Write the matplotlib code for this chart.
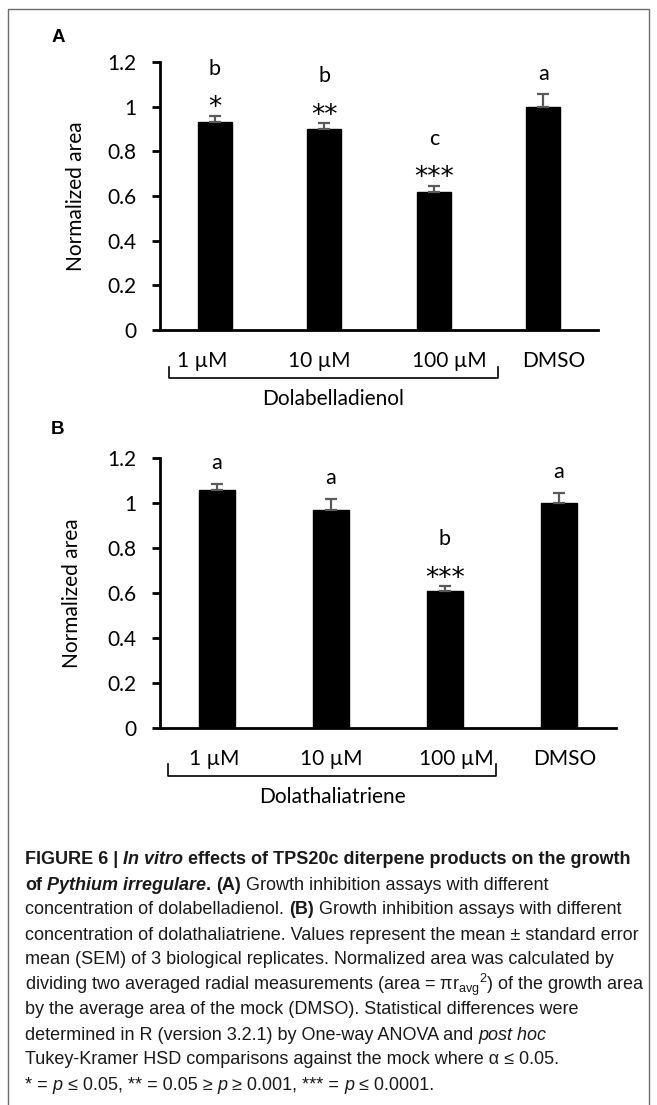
import matplotlib
matplotlib.use("Agg")
import matplotlib.pyplot as plt
import matplotlib.transforms as mtransforms
from matplotlib.patches import Rectangle
import numpy as np

# ── data ──────────────────────────────────────────────────────────────────────
conc_labels = ["1 µM", "10 µM", "100 µM", "DMSO"]

a_means = [0.93, 0.90, 0.62, 1.00]
a_sem = [0.03, 0.025, 0.025, 0.055]
a_letters = ["b", "b", "c", "a"]
a_stars = ["*", "**", "***", ""]
a_group = "Dolabelladienol"

b_means = [1.06, 0.97, 0.61, 1.00]
b_sem = [0.025, 0.05, 0.02, 0.045]
b_letters = ["a", "a", "b", "a"]
b_stars = ["", "", "***", ""]
b_group = "Dolathaliatriene"

W, H = 657, 1105
CHART_FONT = ["Lato", "DejaVu Sans"]
CAP_FONT = ["Liberation Sans", "DejaVu Sans"]
ERR_CLR = "#595959"
TXT = "#1a1a1a"

plt.rcParams["mathtext.fontset"] = "custom"
plt.rcParams["mathtext.rm"] = "Liberation Sans"
plt.rcParams["mathtext.it"] = "Liberation Sans:italic"
plt.rcParams["mathtext.bf"] = "Liberation Sans:bold"

fig = plt.figure(figsize=(W / 100, H / 100), dpi=100, facecolor="white")


def px_box(left, top, right, bottom):
    return [left / W, 1 - bottom / H, (right - left) / W, (bottom - top) / H]


def panel(rect, means, sem, letters, stars, group, shifts, bracket, tag, tag_y):
    ax = fig.add_axes(rect)
    x = np.arange(len(means))
    ax.bar(x, means, width=0.31, color="black", edgecolor="black", zorder=2)
    ax.errorbar(x, means, yerr=[np.zeros(len(sem)), sem], fmt="none",
                ecolor=ERR_CLR, elinewidth=1.6, capsize=4.2, capthick=1.6, zorder=3)
    ax.set_xlim(-0.5, len(means) - 0.5)
    ax.set_ylim(0, 1.2)
    ax.set_yticks([0, 0.2, 0.4, 0.6, 0.8, 1.0, 1.2])
    ax.set_yticklabels(["0", "0.2", "0.4", "0.6", "0.8", "1", "1.2"],
                       fontfamily=CHART_FONT)
    ax.set_xticks(x)
    ax.set_xticklabels(conc_labels, fontfamily=CHART_FONT)
    ax.tick_params(axis="y", length=6, width=2, pad=11, labelsize=15, colors="black")
    ax.tick_params(axis="x", length=0, pad=15, labelsize=15)
    for lab, dx in zip(ax.get_xticklabels(), shifts):
        lab.set_transform(lab.get_transform()
                          + mtransforms.ScaledTranslation(dx / 100, 0, fig.dpi_scale_trans))
    for s in ["top", "right"]:
        ax.spines[s].set_visible(False)
    for s in ["left", "bottom"]:
        ax.spines[s].set_linewidth(2)
    ax.set_ylabel("Normalized area", fontsize=15, fontfamily=CHART_FONT)
    ax.yaxis.set_label_coords(-0.17, 0.5)

    # letters and asterisks above the error bars
    for xi, m, e, let, st in zip(x, means, sem, letters, stars):
        top = m + e
        if st:
            ax.annotate(st, (xi, top), xytext=(0, 0.5), textcoords="offset points",
                        ha="center", va="baseline", fontsize=19,
                        fontfamily="DejaVu Sans")
        ax.annotate(let, (xi, top), xytext=(0, 29.5 if st else 10.5),
                    textcoords="offset points", ha="center", va="baseline",
                    fontsize=15.5, fontfamily=CHART_FONT)

    # bracket grouping the concentrations
    trans = mtransforms.blended_transform_factory(ax.transData, ax.transAxes)
    x0, x1, y_line, y_tip = bracket
    ax.plot([x0, x0, x1, x1], [y_tip, y_line, y_line, y_tip], color="black",
            lw=1.2, transform=trans, clip_on=False)
    ax.text((x0 + x1) / 2, y_line - 0.04, group, transform=trans, ha="center",
            va="top", fontsize=15, fontfamily=CHART_FONT)
    fig.text(58 / W, 1 - tag_y / H, tag, ha="center", va="center",
             fontsize=13.5, fontweight="bold", fontfamily=CAP_FONT)
    return ax


ax_a = panel(px_box(160, 62, 598, 330), a_means, a_sem, a_letters, a_stars, a_group,
             shifts=[-13, -5, 16, 11], bracket=(-0.42, 2.59, -0.18, -0.138),
             tag="A", tag_y=38)
ax_b = panel(px_box(160, 458, 616, 728), b_means, b_sem, b_letters, b_stars, b_group,
             shifts=[-3, 0, 11, 6], bracket=(-0.43, 2.45, -0.178, -0.133),
             tag="B", tag_y=430)

# ── frame around the figure ──────────────────────────────────────────────────
fig.add_artist(Rectangle((8 / W, -0.05), 641 / W, 1.05 - 9 / H, transform=fig.transFigure,
                         fill=False, edgecolor="#6d6d6d", lw=1.0))

# ── caption, mixed bold / italic runs ────────────────────────────────────────
CAP_SIZE = 13.0
STYLE = {"": dict(), "b": dict(fontweight="bold"), "i": dict(fontstyle="italic"),
         "bi": dict(fontweight="bold", fontstyle="italic")}

caption = [
    [("FIGURE 6 |", "b"), (" In vitro", "bi"),
     (" effects of TPS20c diterpene products on the growth", "b")],
    [("of", "b"), (" Pythium irregulare", "bi"), (".", "b"), (" (A)", "b"),
     (" Growth inhibition assays with different", "")],
    [("concentration of dolabelladienol.", ""), (" (B)", "b"),
     (" Growth inhibition assays with different", "")],
    [("concentration of dolathaliatriene. Values represent the mean ± standard error", "")],
    [("mean (SEM) of 3 biological replicates. Normalized area was calculated by", "")],
    [(r"dividing two averaged radial measurements (area = π$\mathrm{r}_{\mathrm{avg}}{}^{2}$) of the growth area", "")],
    [("by the average area of the mock (DMSO). Statistical differences were", "")],
    [("determined in R (version 3.2.1) by One-way ANOVA and", ""), (" post hoc", "i")],
    [("Tukey-Kramer HSD comparisons against the mock where α ≤ 0.05.", "")],
    [("* =", ""), (" p", "i"), (" ≤ 0.05, ** = 0.05 ≥", ""), (" p", "i"),
     (" ≥ 0.001, *** =", ""), (" p", "i"), (" ≤ 0.0001.", "")],
]

renderer = fig.canvas.get_renderer()


def text_width(s, style):
    t = fig.text(0, 0, s, fontsize=CAP_SIZE, fontfamily=CAP_FONT, **STYLE[style])
    w = t.get_window_extent(renderer).width
    t.remove()
    return w


def rich_line(x, y, parts):
    prev = None
    for s, style in parts:
        if prev is not None:
            last, pstyle = prev
            sep = " " if s.startswith(" ") else ""
            first = s.lstrip()[0]
            gap = text_width(last + sep + first, pstyle) \
                - text_width(last, pstyle) - text_width(first, pstyle)
            x += gap
        s = s.lstrip()
        t = fig.text(x, H - y, s, transform=mtransforms.IdentityTransform(),
                     ha="left", va="center", fontsize=CAP_SIZE, fontfamily=CAP_FONT,
                     color=TXT, **STYLE[style])
        ext = t.get_window_extent(renderer)
        if abs(ext.x0 - x) > 0.5:  # mathtext strings start a little off
            t.set_x(2 * x - ext.x0)
            ext = t.get_window_extent(renderer)
        x = ext.x1
        prev = (s[-1], style)


for k, line in enumerate(caption):
    rich_line(25, 860 + 25 * k, line)

fig.savefig("out.png", dpi=100, facecolor="white")
